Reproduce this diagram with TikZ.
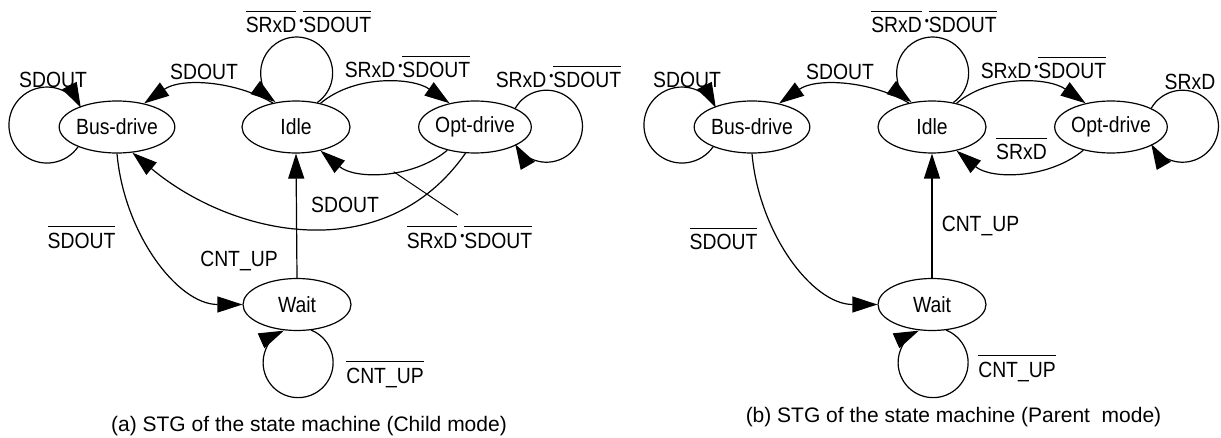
\documentclass[tikz,border=0pt]{standalone}
\usepackage{fontspec}
\usepackage{graphicx}
\setmainfont{Liberation Sans}[FakeStretch=0.88]
\newfontfamily\capfont{Liberation Sans}
\usetikzlibrary{arrows.meta,shapes.geometric}
\newcommand\myol[1]{\vbox{\hrule height 1.2pt\kern 5.5pt\hbox{#1}}}
\newcommand\mydot{\raisebox{0.36em}{\scalebox{0.6}{\textbullet}}}
\begin{document}
\begin{tikzpicture}[x=1pt,y=1pt,line width=1.2pt,
  st/.style={ellipse,draw,minimum width=108pt,minimum height=52pt,inner sep=0pt,font=\fontsize{22}{26}\selectfont},
  lbl/.style={inner sep=0pt,anchor=base,font=\fontsize{22}{26}\selectfont},
  arr/.style={-{Triangle[length=25pt,width=16pt]}},
  lead/.style={line width=1pt},
  captxt/.style={inner sep=0pt,anchor=base,font=\capfont\fontsize{21}{25}\selectfont}]
\useasboundingbox (0,0) rectangle (1221,437);

% ---------- (a) Child mode ----------
\node[st] (bd1) at (117,310) {Bus-drive};
\node[st] (id1) at (296,310) {Idle};
\node[st] (od1) at (475,310) {Opt-drive};
\node[st] (w1) at (297,132.5) {Wait};

\draw[arr] (bd1.207) arc[start angle=-35,end angle=-333,radius=38];
\draw[arr] (id1.134) .. controls +(150:45) and +(35:45) .. (bd1.41);
\draw[arr] (id1.49) arc[start angle=-55,end angle=234,radius=36];
\draw[arr] (id1.44) .. controls +(40:45) and +(145:45) .. (od1.137);
\draw[arr] (od1.25) arc[start angle=150,end angle=-150,radius=36];
\draw[arr] (od1.220) .. controls +(220:45) and +(-40:45) .. coordinate[pos=0.43] (lk) (id1.-44);
\draw[arr] (od1.250) .. controls +(235:142.6) and +(-40:129.4) .. (bd1.-59);
\draw[arr] (bd1.-90) .. controls +(-85:80) and +(180:65) .. (w1.west);
\draw[arr] (w1.north) -- (id1.south);
\draw[arr] (w1.-61) arc[start angle=68,end angle=-246,radius=35];

\node[lbl] (a1) at (53,349) {SDOUT};
\node[lbl] (a2) at (204,357) {SDOUT};
\node[lbl] (a3) at (308.5,404) {\myol{SRxD}\hspace{3pt}\mydot\myol{SDOUT}};
\node[lbl] (a4) at (407.5,359) {SRxD\hspace{3pt}\mydot\myol{SDOUT}};
\node[lbl] (a5) at (558.5,349) {SRxD\hspace{3pt}\mydot\myol{SDOUT}};
\node[lbl] (a6) at (469.5,189) {\myol{SRxD}\hspace{3pt}\mydot\myol{SDOUT}};
\node[lbl] (a7) at (345,224) {SDOUT};
\node[lbl] (a8) at (81.5,189) {\myol{SDOUT}};
\node[lbl] (a9) at (239,171) {CNT\_UP};
\node[lbl] (a10) at (385,54) {\myol{CNT\_UP}};
\coordinate (lkend) at (458,222);
\draw[lead] (lk) -- (lkend);
\node[captxt] (ca) at (309,5.3) {(a) STG of the state machine (Child mode)};

% ---------- (b) Parent mode ----------
\node[st] (bd2) at (752,310) {Bus-drive};
\node[st] (id2) at (932,310) {Idle};
\node[st] (od2) at (1111,310) {Opt-drive};
\node[st] (w2) at (932,132.5) {Wait};

\draw[arr] (bd2.207) arc[start angle=-35,end angle=-333,radius=38];
\draw[arr] (id2.134) .. controls +(150:45) and +(35:45) .. (bd2.41);
\draw[arr] (id2.49) arc[start angle=-55,end angle=234,radius=36];
\draw[arr] (id2.44) .. controls +(40:45) and +(145:45) .. (od2.137);
\draw[arr] (od2.25) arc[start angle=150,end angle=-150,radius=36];
\draw[arr] (od2.220) .. controls +(220:45) and +(-40:45) .. (id2.-44);
\draw[arr] (bd2.-90) .. controls +(-85:80) and +(180:65) .. (w2.west);
\draw[arr] (w2.north) -- (id2.south);
\draw[arr] (w2.-61) arc[start angle=68,end angle=-246,radius=35];

\node[lbl] (b1) at (687,349) {SDOUT};
\node[lbl] (b2) at (840,357) {SDOUT};
\node[lbl] (b3) at (934,404) {\myol{SRxD}\hspace{3pt}\mydot\myol{SDOUT}};
\node[lbl] (b4) at (1043.5,358) {SRxD\hspace{3pt}\mydot\myol{SDOUT}};
\node[lbl] (b5) at (1021.5,277) {\myol{SRxD}};
\node[lbl] (b6) at (1190,347) {SRxD};
\node[lbl] (b7) at (723.5,187) {\myol{SDOUT}};
\node[lbl] (b8) at (980.5,205) {CNT\_UP};
\node[lbl] (b9) at (1017,60) {\myol{CNT\_UP}};
\node[captxt] (cb) at (953.5,14.3) {(b) STG of the state machine (Parent~ mode)};
\end{tikzpicture}
\end{document}
